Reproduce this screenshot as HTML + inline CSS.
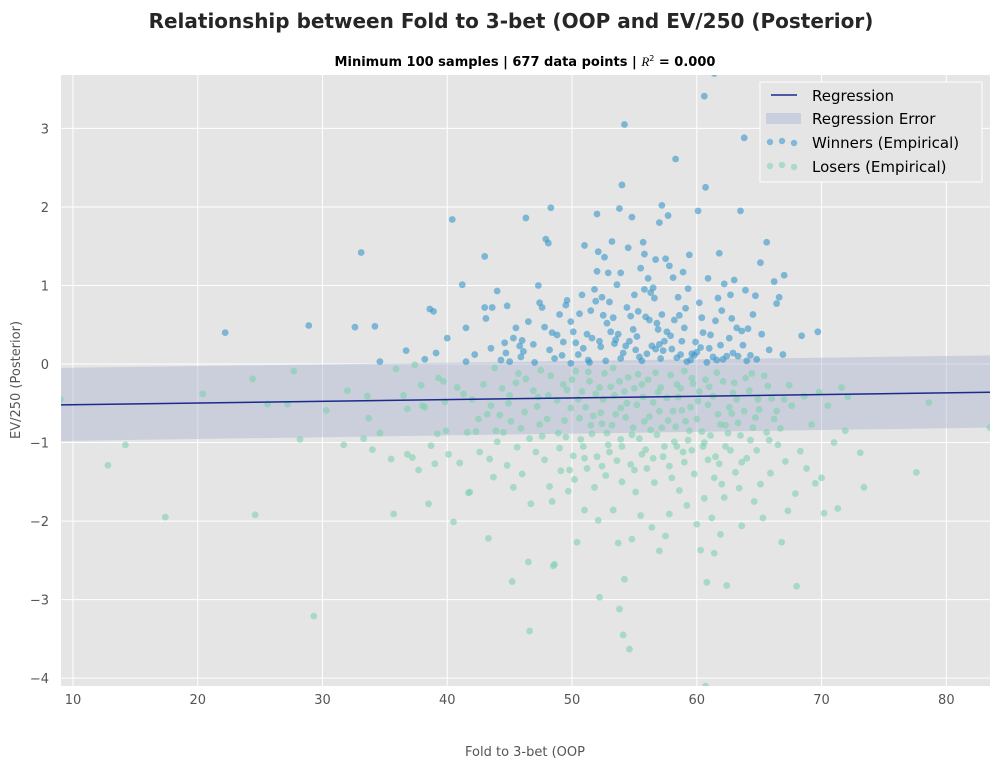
<!DOCTYPE html>
<html><head><meta charset="utf-8">
<style>
body{margin:0;background:#fff;font-family:"Liberation Sans","DejaVu Sans",sans-serif;}
svg text{font-family:"DejaVu Sans","Liberation Sans",sans-serif;}
</style></head>
<body>
<svg id="chart" width="1000" height="770" viewBox="0 0 1000 770">
<defs><clipPath id="pc"><rect x="61" y="75" width="929" height="611"/></clipPath></defs>
<text x="511" y="28" text-anchor="middle" font-size="20" font-weight="bold" fill="#262626">Relationship between Fold to 3-bet (OOP and EV/250 (Posterior)</text>
<text x="525" y="66" text-anchor="middle" font-size="13" font-weight="bold" fill="#000">Minimum 100 samples | 677 data points | <tspan font-style="italic" font-weight="normal" font-family="Liberation Serif,serif">R</tspan><tspan font-size="8" dy="-5" font-weight="normal">2</tspan><tspan dy="5">  =  0.000</tspan></text>
<rect x="61" y="75" width="929" height="611" fill="#e5e5e5"/>
<g id="grid"></g>
<g id="band" clip-path="url(#pc)"></g>
<g id="pts" clip-path="url(#pc)"></g>
<g id="reg"></g>
<g id="ticks"></g>
<text x="525" y="756" text-anchor="middle" font-size="13" fill="#555">Fold to 3-bet (OOP</text>
<text x="20" y="380" text-anchor="middle" font-size="13" fill="#555" transform="rotate(-90 20 380)">EV/250 (Posterior)</text>
<g>
<rect x="760" y="82" width="222" height="100" fill="#e5e5e5" stroke="#fff" stroke-width="1"/>
<line x1="771" y1="95" x2="797" y2="95" stroke="#1a2b8c" stroke-width="1.5"/>
<text x="812" y="101" font-size="15" fill="#000">Regression</text>
<rect x="766" y="113" width="35" height="11" fill="#c9cfdc"/>
<text x="812" y="124" font-size="15" fill="#000">Regression Error</text>
<circle cx="770" cy="142" r="3.2" fill="rgb(60,155,205)" opacity="0.6"/><circle cx="782" cy="141" r="3.2" fill="rgb(60,155,205)" opacity="0.6"/><circle cx="794" cy="143" r="3.2" fill="rgb(60,155,205)" opacity="0.6"/>
<text x="812" y="148" font-size="15" fill="#000">Winners (Empirical)</text>
<circle cx="770" cy="166" r="3.2" fill="rgb(130,210,180)" opacity="0.6"/><circle cx="782" cy="165" r="3.2" fill="rgb(130,210,180)" opacity="0.6"/><circle cx="794" cy="167" r="3.2" fill="rgb(130,210,180)" opacity="0.6"/>
<text x="812" y="172" font-size="15" fill="#000">Losers (Empirical)</text>
</g>
</svg>
<script>
const xTicks=[10,20,30,40,50,60,70,80];
const yTicks=[3,2,1,0,-1,-2,-3,-4];
const regX=[9.04,83.5];
const regY=[-0.52,-0.36];
const bandUpper=[-0.05,0.11];
const bandLower=[-0.98,-0.81];
const winners=[[22.2,0.40],[28.9,0.49],[32.6,0.47],[33.1,1.42],[34.2,0.48],[34.6,0.03],[36.7,0.17],[38.2,0.06],[38.6,0.70],[38.9,0.67],[39.1,0.14],[40.4,1.84],[41.2,1.01],[41.5,0.46],[41.5,0.03],[43.0,0.72],[43.0,1.37],[43.1,0.58],[43.6,0.72],[44.0,0.93],[44.6,0.27],[44.7,0.14],[44.8,0.74],[45.0,0.03],[45.3,0.33],[45.5,0.46],[45.8,0.23],[46.1,0.16],[46.3,1.86],[46.5,0.54],[46.9,0.25],[47.3,1.00],[47.4,0.78],[47.6,0.72],[47.8,0.47],[47.9,1.59],[48.1,1.54],[48.2,0.18],[48.3,1.99],[48.4,0.40],[48.8,0.37],[49.0,0.63],[49.2,0.11],[49.5,0.75],[49.6,0.81],[49.9,0.54],[49.9,0.01],[50.3,0.27],[50.6,0.64],[50.8,0.88],[51.0,1.51],[51.2,0.38],[51.4,0.02],[51.6,0.33],[51.8,0.95],[51.9,0.80],[52.0,1.91],[52.0,1.18],[52.1,1.43],[52.2,0.29],[52.4,0.85],[52.6,1.36],[52.7,0.04],[52.9,1.16],[53.0,0.79],[53.2,1.56],[53.4,0.26],[53.6,1.01],[53.7,0.38],[53.8,1.98],[53.9,1.16],[54.0,2.28],[54.1,0.14],[54.2,3.05],[54.3,0.23],[54.5,1.48],[54.7,0.61],[54.8,1.87],[55.0,0.88],[55.2,0.35],[55.4,0.09],[55.7,1.55],[55.8,1.40],[55.9,0.60],[56.1,1.09],[56.3,0.91],[56.5,0.97],[56.7,1.33],[56.9,0.44],[57.0,1.80],[57.2,2.02],[57.3,0.17],[57.5,1.34],[57.7,1.89],[57.8,1.25],[58.1,1.10],[58.3,2.61],[58.6,0.62],[58.9,1.17],[59.1,0.71],[59.4,1.39],[59.6,0.13],[60.1,1.95],[60.4,0.59],[60.6,3.41],[60.7,2.25],[60.9,1.09],[61.1,0.37],[61.4,3.70],[61.6,0.05],[61.8,1.41],[62.0,0.68],[62.2,1.02],[62.4,0.10],[62.7,0.88],[63.0,1.07],[63.2,0.46],[63.5,1.95],[63.8,2.88],[63.9,0.94],[64.1,0.45],[64.3,0.11],[64.7,0.87],[65.1,1.29],[65.6,1.55],[65.8,0.18],[66.2,1.05],[66.4,0.77],[66.6,0.85],[67.0,1.13],[68.4,0.36],[69.7,0.41],[50.5,0.12],[51.3,0.05],[52.3,0.22],[53.1,0.41],[53.5,0.31],[54.6,0.29],[55.1,0.18],[55.6,0.04],[56.0,0.13],[56.4,0.23],[56.8,0.52],[57.1,0.07],[57.6,0.41],[58.0,0.19],[58.4,0.08],[58.8,0.29],[59.2,0.03],[59.8,0.11],[60.3,0.21],[61.3,0.09],[62.6,0.33],[63.3,0.10],[64.0,0.04],[47.0,0.02],[46.0,0.30],[44.3,0.05],[55.3,0.67],[56.2,0.56],[57.9,0.36],[59.0,0.46],[60.0,0.15],[61.0,0.20],[62.9,0.14],[50.1,0.41],[51.5,0.68],[53.3,0.59],[54.4,0.72],[55.5,1.22],[56.6,0.84],[57.4,0.29],[58.2,0.56],[59.5,0.05],[60.8,0.02],[61.9,0.24],[63.7,0.24],[64.8,0.06],[52.8,0.52],[54.9,0.44],[56.7,0.19],[58.7,0.12],[60.5,0.40],[62.1,0.06],[63.6,0.42],[49.3,0.28],[48.6,0.07],[53.9,0.07],[57.0,0.25],[59.9,0.28],[61.5,0.55],[65.2,0.38],[66.9,0.12],[64.5,0.63],[55.8,0.95],[57.2,0.63],[58.5,0.85],[59.3,0.96],[60.2,0.78],[61.7,0.84],[62.8,0.58],[52.5,0.62],[50.9,0.20],[45.9,0.09],[43.5,0.20],[42.2,0.12],[40.0,0.33]];
const losers=[[9.0,-0.45],[12.8,-1.29],[14.2,-1.03],[17.4,-1.95],[20.4,-0.38],[24.4,-0.19],[24.6,-1.92],[25.6,-0.51],[27.2,-0.51],[27.7,-0.09],[28.2,-0.96],[29.3,-3.21],[30.3,-0.59],[31.7,-1.03],[32.0,-0.34],[33.3,-0.95],[33.6,-0.41],[33.7,-0.69],[34.0,-1.09],[34.6,-0.88],[35.5,-1.21],[35.7,-1.91],[35.9,-0.06],[36.5,-0.40],[36.8,-1.15],[36.8,-0.57],[37.2,-1.19],[37.4,-0.01],[37.7,-1.35],[37.9,-0.27],[38.0,-0.53],[38.2,-0.55],[38.5,-1.78],[38.7,-1.04],[39.0,-1.27],[39.2,-0.89],[39.3,-0.18],[39.7,-0.22],[39.8,-0.48],[39.9,-0.85],[40.1,-1.15],[40.5,-2.01],[40.8,-0.30],[41.0,-1.26],[41.3,-0.38],[41.6,-0.87],[41.7,-1.64],[41.8,-1.63],[42.3,-0.86],[42.5,-0.70],[42.6,-1.12],[42.9,-0.26],[43.2,-0.64],[43.3,-2.22],[43.4,-1.21],[43.5,-0.53],[43.7,-1.44],[43.8,-0.05],[44.0,-0.99],[44.2,-0.65],[44.5,-0.87],[44.8,-1.29],[45.0,-0.40],[45.2,-2.77],[45.3,-1.57],[45.5,-0.24],[45.6,-1.06],[45.9,-0.82],[46.0,-1.40],[46.2,-0.61],[46.5,-2.52],[46.6,-3.40],[46.7,-1.78],[46.9,-0.34],[47.1,-1.12],[47.3,-0.42],[47.5,-0.08],[47.6,-0.92],[47.8,-1.22],[48.0,-0.70],[48.2,-1.56],[48.4,-1.75],[48.5,-2.57],[48.6,-2.55],[48.8,-0.46],[49.0,-1.07],[49.1,-1.36],[49.3,-0.26],[49.5,-0.93],[49.7,-1.62],[49.9,-0.56],[50.1,-1.17],[50.2,-1.47],[50.4,-2.27],[50.6,-0.69],[50.8,-0.35],[50.9,-1.05],[51.0,-1.86],[51.2,-1.33],[51.4,-0.22],[51.6,-0.89],[51.8,-1.57],[52.0,-1.18],[52.1,-1.99],[52.2,-2.97],[52.4,-0.76],[52.5,-0.45],[52.7,-1.42],[52.9,-1.03],[53.1,-0.29],[53.3,-1.86],[53.5,-0.64],[53.6,-1.23],[53.7,-2.28],[53.8,-3.12],[53.9,-0.96],[54.0,-1.50],[54.1,-3.45],[54.2,-2.74],[54.4,-0.50],[54.6,-3.63],[54.7,-1.28],[54.8,-2.23],[54.9,-0.81],[55.1,-1.63],[55.3,-0.13],[55.5,-1.93],[55.7,-0.42],[55.9,-1.09],[56.0,-1.33],[56.2,-0.67],[56.4,-2.08],[56.6,-1.51],[56.8,-0.90],[57.0,-2.38],[57.1,-0.30],[57.3,-1.18],[57.5,-2.19],[57.7,-0.72],[57.8,-1.91],[58.0,-1.45],[58.2,-0.99],[58.4,-0.26],[58.6,-1.61],[58.8,-0.59],[59.0,-1.25],[59.2,-1.80],[59.4,-0.85],[59.6,-0.18],[59.8,-1.40],[60.0,-2.04],[60.1,-0.47],[60.3,-2.37],[60.5,-1.05],[60.6,-1.71],[60.7,-4.10],[60.8,-2.78],[61.0,-0.29],[61.2,-1.96],[61.4,-2.41],[61.5,-1.18],[61.7,-0.64],[61.9,-2.17],[62.0,-1.53],[62.2,-1.70],[62.4,-2.82],[62.5,-0.88],[62.7,-1.10],[62.9,-0.37],[63.1,-1.38],[63.4,-1.58],[63.6,-2.06],[63.8,-0.60],[64.0,-1.20],[64.3,-0.97],[64.6,-1.75],[64.9,-0.45],[65.1,-1.53],[65.3,-1.96],[65.6,-0.87],[65.9,-1.39],[66.2,-0.70],[66.5,-1.03],[66.8,-2.27],[67.1,-1.24],[67.3,-1.87],[67.6,-0.53],[67.9,-1.65],[68.0,-2.83],[68.3,-1.11],[68.6,-0.41],[68.8,-1.33],[69.2,-0.77],[69.5,-1.52],[69.8,-0.36],[70.0,-1.45],[70.2,-1.90],[70.5,-0.53],[71.0,-1.00],[71.3,-1.84],[71.6,-0.30],[71.9,-0.85],[72.1,-0.42],[73.1,-1.13],[73.4,-1.57],[77.6,-1.38],[78.6,-0.49],[83.5,-0.81],[48.3,-0.15],[49.6,-0.33],[50.3,-0.09],[51.1,-0.55],[51.9,-0.38],[52.6,-0.12],[53.2,-0.78],[53.8,-0.22],[54.3,-0.68],[55.0,-0.31],[55.4,-0.95],[56.1,-0.20],[56.5,-0.49],[57.2,-0.81],[57.9,-0.14],[58.5,-0.42],[59.1,-0.73],[59.7,-0.25],[60.4,-0.86],[60.9,-0.52],[61.6,-0.11],[62.3,-0.78],[63.0,-0.24],[63.5,-0.91],[64.2,-0.34],[64.7,-0.68],[65.4,-0.15],[66.0,-0.44],[66.7,-0.82],[67.4,-0.27],[49.4,-0.72],[50.7,-0.96],[52.3,-0.62],[53.4,-0.40],[54.5,-0.17],[55.8,-0.73],[56.9,-0.36],[58.1,-0.60],[59.3,-0.97],[60.2,-0.35],[61.1,-0.91],[62.6,-0.55],[64.4,-0.12],[65.8,-0.97],[47.2,-0.54],[46.3,-0.19],[45.1,-0.73],[44.4,-0.31],[57.4,-1.05],[55.6,-1.15],[53.0,-1.12],[51.5,-0.78],[58.9,-1.12],[61.8,-1.27],[63.3,-0.75],[60.6,-1.00],[50.0,-0.20],[50.5,-0.45],[51.3,-0.10],[51.7,-0.66],[52.2,-0.30],[52.8,-0.88],[53.3,-0.05],[53.9,-0.56],[54.2,-0.35],[54.8,-0.90],[55.2,-0.52],[55.6,-0.26],[56.3,-0.84],[56.7,-0.11],[57.0,-0.60],[57.6,-0.43],[58.3,-0.80],[58.7,-0.31],[59.0,-0.09],[59.5,-0.55],[60.0,-0.70],[60.7,-0.20],[61.3,-0.41],[61.9,-0.77],[62.1,-0.22],[62.8,-0.63],[63.2,-0.45],[63.9,-0.18],[64.5,-0.81],[65.0,-0.58],[65.7,-0.28],[66.4,-0.60],[67.0,-0.45],[48.9,-0.88],[48.1,-0.40],[47.4,-0.77],[46.6,-0.95],[45.7,-0.12],[44.9,-0.50],[43.9,-0.85],[42.0,-0.45],[54.0,-1.05],[55.0,-1.35],[56.5,-1.20],[57.8,-1.30],[59.6,-1.10],[61.4,-1.45],[62.3,-1.05],[64.8,-1.10],[52.4,-1.30],[51.0,-1.20],[49.8,-1.35],[58.4,-1.05],[60.9,-1.22],[63.6,-1.25]];
const X0=9.04,X1=83.5,Y0=-4.10,Y1=3.68,L=61,R=990,T=75,B=686;
function sx(v){return L+(v-X0)/(X1-X0)*(R-L);}
function sy(v){return B-(v-Y0)/(Y1-Y0)*(B-T);}
const NS='http://www.w3.org/2000/svg';
function mk(tag,attrs,parent){const e=document.createElementNS(NS,tag);for(const k in attrs)e.setAttribute(k,attrs[k]);parent.appendChild(e);return e;}
const grid=document.getElementById('grid'),ticks=document.getElementById('ticks');
xTicks.forEach(t=>{const x=sx(t);
 const g=mk('line',{x1:x,x2:x,y1:T,y2:B,stroke:'#fff','stroke-width':1},grid);
 
 
 const tx=mk('text',{x:x,y:B+18,'text-anchor':'middle','font-size':13,fill:'#555'},ticks);tx.textContent=t;
 
 
});
yTicks.forEach(t=>{const y=sy(t);
 const g=mk('line',{x1:L,x2:R,y1:y,y2:y,stroke:'#fff','stroke-width':1},grid);
 
 
 const tx=mk('text',{x:L-12,y:y+5,'text-anchor':'end','font-size':13,fill:'#555'},ticks);tx.textContent=(t<0?'\u2212'+(-t):t);
 
 
});
const band=mk('polygon',{points:`${sx(regX[0])},${sy(bandUpper[0])} ${sx(regX[1])},${sy(bandUpper[1])} ${sx(regX[1])},${sy(bandLower[1])} ${sx(regX[0])},${sy(bandLower[0])}`,fill:'#a3b0cc','fill-opacity':0.4},document.getElementById('band'));


const pts=document.getElementById('pts');
winners.forEach(p=>{const c=mk('circle',{cx:sx(p[0]),cy:sy(p[1]),r:3.4,fill:'rgb(55,150,200)','fill-opacity':0.6},pts);
 
 });
losers.forEach(p=>{const c=mk('circle',{cx:sx(p[0]),cy:sy(p[1]),r:3.4,fill:'rgb(125,208,175)','fill-opacity':0.6},pts);
 
 });
const rl=mk('line',{x1:sx(regX[0]),y1:sy(regY[0]),x2:sx(regX[1]),y2:sy(regY[1]),stroke:'#1a2b8c','stroke-width':1.5},document.getElementById('reg'));


</script>
</body></html>
